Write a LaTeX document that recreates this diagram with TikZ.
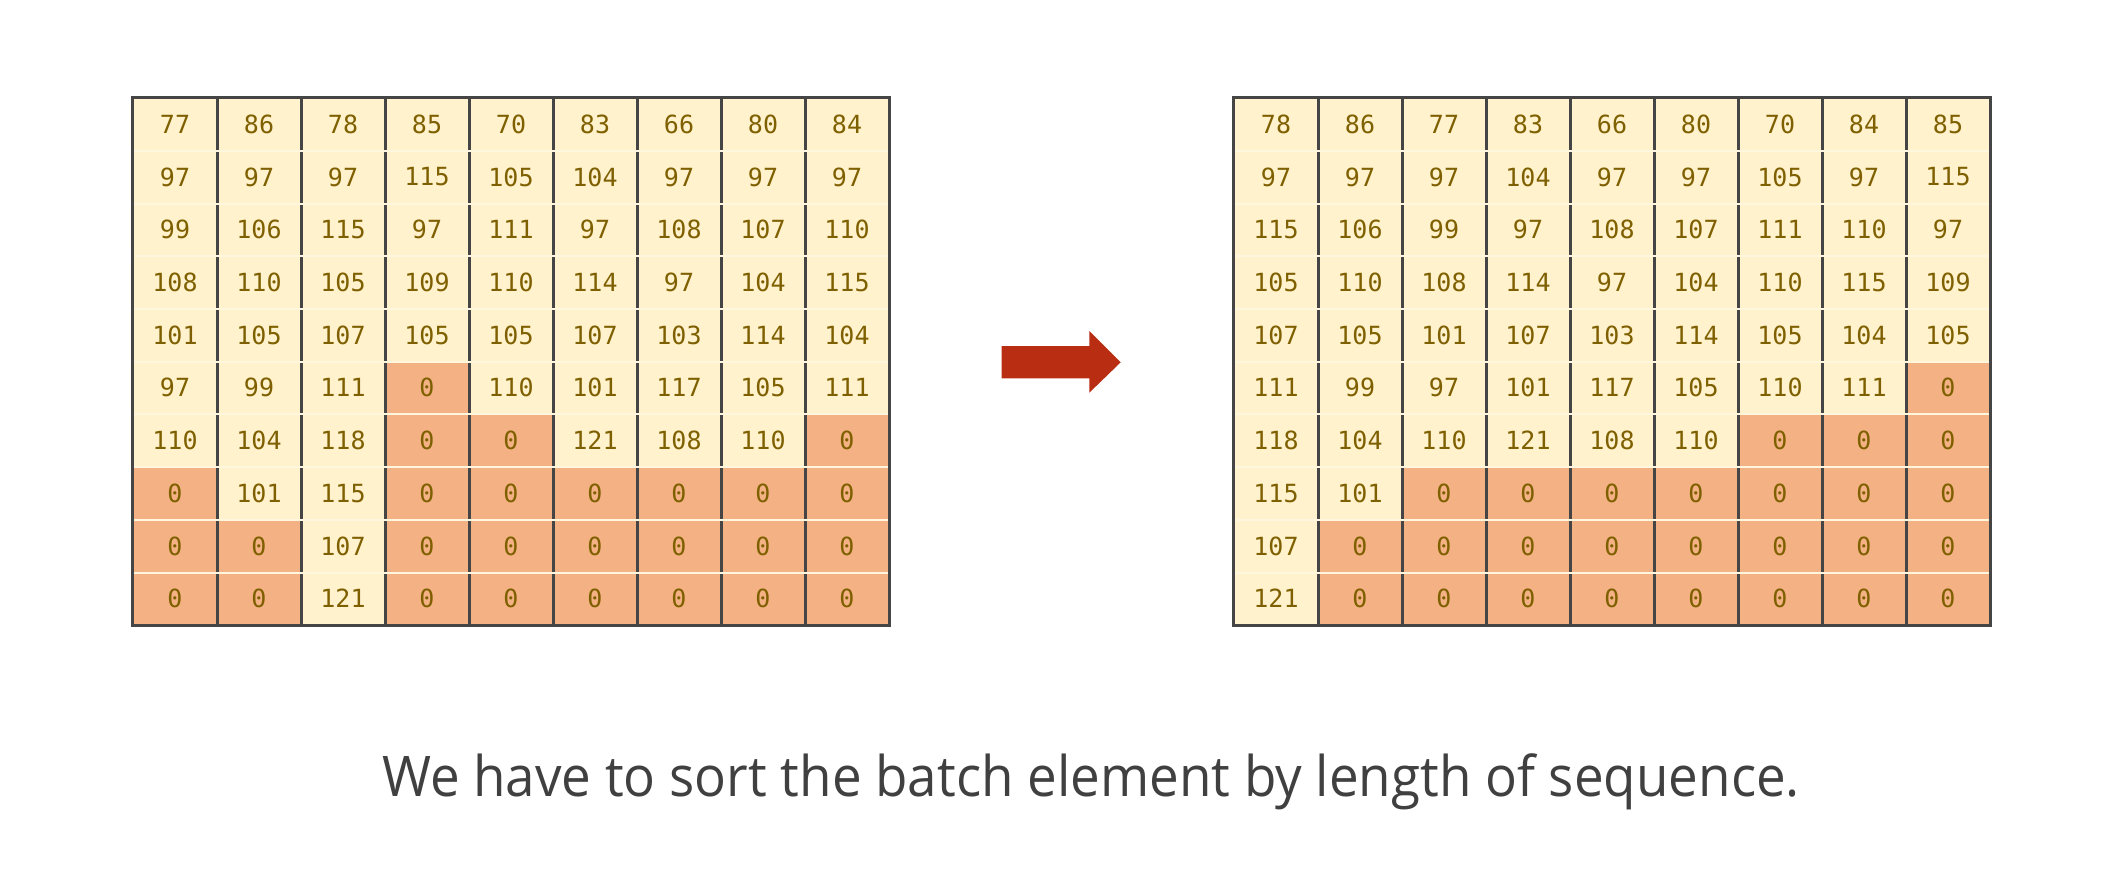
\documentclass[tikz,border=0pt]{standalone}
\usepackage{fontspec}
\setmainfont{Open Sans}
\newfontfamily\cellfont{DejaVu Sans Mono}
\definecolor{cream}{HTML}{FFF2CC}
\definecolor{pad}{HTML}{F4B183}
\definecolor{numc}{HTML}{7F6000}
\definecolor{gridc}{HTML}{454545}
\definecolor{sepc}{HTML}{FFF6DE}
\definecolor{arrowc}{HTML}{B92D12}
\definecolor{textc}{HTML}{404040}
\tikzset{
  cellbox/.style={rectangle, inner sep=0pt, minimum width=84pt, minimum height=52.7pt,
    text=numc, font=\cellfont\fontsize{25}{25}\selectfont},
  colline/.style={draw=gridc, line width=2.8pt},
  rowline/.style={draw=sepc, line width=2pt},
  frame/.style={draw=gridc, line width=2.8pt},
}
\newcommand{\drawgrid}[3]{% prefix, x0, rows
  \foreach \rowvals [count=\r] in {#3} {
    \foreach \v [count=\c] in \rowvals {
      \ifnum\v=0 \def\fc{pad}\else\def\fc{cream}\fi
      \node[cellbox, fill=\fc] (#1-\r-\c) at ({#2+84*(\c-0.5)}, {98+52.7*(\r-0.5)}) {\v};
    }
  }
  \foreach \c in {1,...,8} {
    \draw[colline] (#1-1-\c.north east) -- (#1-10-\c.south east);
  }
  \foreach \r in {1,...,9} {
    \draw[rowline] ([xshift=1.4pt]#1-\r-1.south west) -- ([xshift=-1.4pt]#1-\r-9.south east);
  }
  \draw[frame] (#1-1-1.north west) rectangle (#1-10-9.south east);
}
\begin{document}
\begin{tikzpicture}[x=1pt,y=-1pt]
\useasboundingbox (0,0) rectangle (2123,871);
\drawgrid{L}{133}{
  {77,86,78,85,70,83,66,80,84},
  {97,97,97,115,105,104,97,97,97},
  {99,106,115,97,111,97,108,107,110},
  {108,110,105,109,110,114,97,104,115},
  {101,105,107,105,105,107,103,114,104},
  {97,99,111,0,110,101,117,105,111},
  {110,104,118,0,0,121,108,110,0},
  {0,101,115,0,0,0,0,0,0},
  {0,0,107,0,0,0,0,0,0},
  {0,0,121,0,0,0,0,0,0}}
\drawgrid{R}{1234}{
  {78,86,77,83,66,80,70,84,85},
  {97,97,97,104,97,97,105,97,115},
  {115,106,99,97,108,107,111,110,97},
  {105,110,108,114,97,104,110,115,109},
  {107,105,101,107,103,114,105,104,105},
  {111,99,97,101,117,105,110,111,0},
  {118,104,110,121,108,110,0,0,0},
  {115,101,0,0,0,0,0,0,0},
  {107,0,0,0,0,0,0,0,0},
  {121,0,0,0,0,0,0,0,0}}
\fill[arrowc] (1001.7,346) -- (1089.3,346) -- (1089.3,331) -- (1120.7,362.3)
  -- (1089.3,392.7) -- (1089.3,378.3) -- (1001.7,378.3) -- cycle;
\node[anchor=base, text=textc, font=\fontsize{56}{60}\selectfont, inner sep=0pt] (caption)
  at (1091,796) {\scalebox{0.945}[1]{We have to sort the batch element by length of sequence.}};
\end{tikzpicture}
\end{document}
